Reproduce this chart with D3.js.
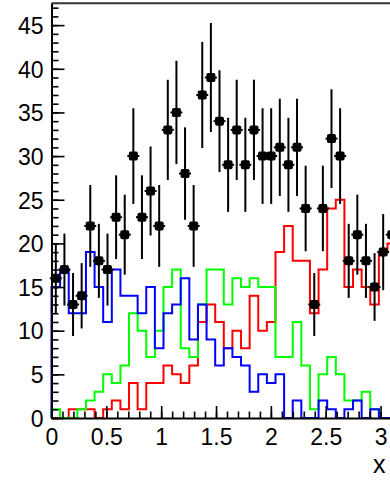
<!DOCTYPE html>
<html><head><meta charset="utf-8">
<script src="https://cdn.jsdelivr.net/npm/d3@7"></script>
<style>html,body{margin:0;padding:0;background:#fff;overflow:hidden}</style>
</head><body><svg id="c" width="390" height="481"></svg>
<script>
// ---- data (40 bins over [0, pi]) ----
const nBins = 40, xLow = 0, xHigh = Math.PI, yMax = 47.5;
const dataCounts = [16,17,13,14,22,18,17,23,21,30,23,26,22,33,35,28,22,37,39,34,29,33,29,33,30,30,31,29,31,24,13,24,32,30,18,21,18,15,19,21];
const blueHist  = [15,17,12,12,19,15,11,17,14,14,12,15,8,12,13,16,9,13,9,6,8,7,6,3,5,4,5,0,2,0,0,2,1,0,1,2,0,1,0,0];
const greenHist = [1,0,0,1,2,3,5,4,6,12,10,7,10,15,17,8,7,13,17,17,13,16,15,16,15,15,7,7,11,6,1,5,7,5,2,2,3,1,0,0];
const redHist   = [0,0,1,1,1,0,1,2,1,4,1,4,4,6,5,4,6,11,13,11,8,10,8,14,10,11,19,22,18,18,12,17,24,25,15,17,15,13,19,20];
const xTickValues = [0,0.5,1,1.5,2,2.5,3];
const xTickLabels = ["0","0.5","1","1.5","2","2.5","3"];
const yTickValues = [0,5,10,15,20,25,30,35,40,45];
const yTickLabels = ["0","5","10","15","20","25","30","35","40","45"];
const axisTitle = "x";

// ---- layout ----
const frame = {left:51.5, right:396.1, top:3.3, bottom:418};
const svg = d3.select("#c");
const x = d3.scaleLinear().domain([xLow,xHigh]).range([frame.left, frame.right]);
const y = d3.scaleLinear().domain([0,yMax]).range([frame.bottom, frame.top]);
const bw = (xHigh-xLow)/nBins;
const edges = d3.range(nBins+1).map(i => xLow + i*bw);
const centers = d3.range(nBins).map(i => xLow + (i+0.5)*bw);
const font = "'Liberation Sans', Arial, Helvetica, sans-serif";

// frame top line
svg.append("line").attr("x1",frame.left).attr("x2",frame.right)
  .attr("y1",frame.top).attr("y2",frame.top)
  .attr("stroke","#333").attr("stroke-width",2);

// histograms
const line = d3.line().x(d=>x(d[0])).y(d=>y(d[1])).curve(d3.curveStepAfter);
function pts(vals){
  const p = [[edges[0],0]];
  vals.forEach((v,i)=>p.push([edges[i],v]));
  p.push([edges[nBins], vals[nBins-1]]);
  p.push([edges[nBins], 0]);
  return p;
}
[[redHist,"#ff0000"],[greenHist,"#00ff00"],[blueHist,"#0000ff"]].forEach(([h,c])=>{
  svg.append("path").attr("d",line(pts(h))).attr("fill","none")
    .attr("stroke",c).attr("stroke-width",2);
});

// axes
function styleAxis(g){
  g.attr("font-family",font).attr("font-size",23);
  g.selectAll("line").attr("stroke","#000").attr("stroke-width",1.6);
  g.selectAll("text").attr("fill","#000");
}
const gyMinor = svg.append("g").attr("transform",`translate(${frame.left},0)`)
  .call(d3.axisLeft(y).tickValues(d3.range(0,48,1)).tickSize(-7).tickSizeOuter(0).tickFormat(""));
gyMinor.select(".domain").remove();
styleAxis(gyMinor);
const gyMajor = svg.append("g").attr("transform",`translate(${frame.left},0)`)
  .call(d3.axisLeft(y).tickValues(yTickValues).tickSize(-13).tickSizeOuter(0).tickPadding(8)
    .tickFormat((d,i)=>yTickLabels[i]));
gyMajor.select(".domain").attr("stroke","#000").attr("stroke-width",2);
styleAxis(gyMajor);
gyMajor.selectAll("text").attr("dy","0.36em");

const gxMinor = svg.append("g").attr("transform",`translate(0,${frame.bottom})`)
  .call(d3.axisBottom(x).tickValues(d3.range(0,32,1).map(d=>d/10)).tickSize(-6.5).tickSizeOuter(0).tickFormat(""));
gxMinor.select(".domain").remove();
styleAxis(gxMinor);
const gxMajor = svg.append("g").attr("transform",`translate(0,${frame.bottom})`)
  .call(d3.axisBottom(x).tickValues(xTickValues).tickSize(-12).tickSizeOuter(0)
    .tickFormat((d,i)=>xTickLabels[i]));
gxMajor.select(".domain").attr("stroke","#000").attr("stroke-width",2);
styleAxis(gxMajor);
gxMajor.selectAll("text").attr("y",27).attr("dy",0);

svg.append("text").attr("x",373).attr("y",473).attr("font-family",font)
  .attr("font-size",25).attr("fill","#000").text(axisTitle);

// data points with sqrt(N) errors
const gd = svg.append("g");
dataCounts.forEach((n,i)=>{
  const cx = x(centers[i]), e = Math.sqrt(n);
  gd.append("line").attr("x1",cx).attr("x2",cx).attr("y1",y(n-e)).attr("y2",y(n+e))
    .attr("stroke","#000").attr("stroke-width",2);
  gd.append("line").attr("x1",cx-6).attr("x2",cx+6).attr("y1",y(n)).attr("y2",y(n))
    .attr("stroke","#000").attr("stroke-width",2);
  gd.append("rect").attr("x",cx-4.5).attr("y",y(n)-4.5).attr("width",9).attr("height",9)
    .attr("rx",1.8).attr("fill","#000");
});
</script></body></html>
